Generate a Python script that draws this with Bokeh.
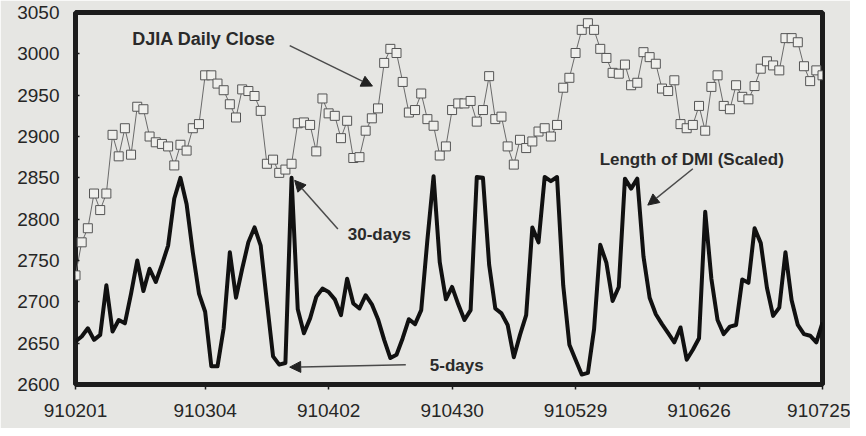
from bokeh.plotting import figure
from bokeh.models import Range1d, FixedTicker, Arrow, NormalHead, Label, ColumnDataSource
from bokeh.embed import file_html
from bokeh.resources import INLINE

# Trading-day index positions of the date ticks and their labels
tick_index = [0, 21, 41, 61, 81, 101, 121]
tick_labels = ["910201", "910304", "910402", "910430", "910529", "910626", "910725"]
y_ticks = [2600, 2650, 2700, 2750, 2800, 2850, 2900, 2950, 3000, 3050]

# DJIA daily close (one value per trading day, 910201 .. 910725)
djia = [2732, 2772, 2789, 2831, 2811, 2831, 2902, 2876, 2910, 2878,
        2936, 2933, 2900, 2893, 2891, 2888, 2865, 2890, 2883, 2910,
        2915, 2974, 2974, 2964, 2956, 2939, 2923, 2957, 2955, 2949,
        2931, 2867, 2872, 2856, 2860, 2867,
        2916, 2917, 2914, 2882, 2946, 2928, 2925, 2898, 2919, 2874,
        2875, 2907, 2922, 2934, 2989, 3006, 3001, 2966, 2929, 2932,
        2952, 2921, 2913, 2877, 2888, 2932, 2940, 2940, 2943, 2918,
        2932, 2973, 2921, 2924, 2888, 2866, 2896, 2886, 2894, 2906,
        2910, 2900, 2914, 2959, 2971, 3001,
        3029, 3037, 3029, 3006, 2995, 2977, 2976, 2987, 2962, 2965,
        3002, 2996, 2988, 2958, 2955, 2968, 2915, 2910, 2914, 2937,
        2907, 2960, 2974, 2937, 2933, 2962, 2948, 2945, 2961, 2982,
        2991, 2986, 2980, 3019, 3019, 3014, 2985, 2967, 2980, 2974]

# Length of DMI (scaled to the DJIA axis)
dmi = [2652, 2658, 2668, 2654, 2660, 2720, 2664, 2678, 2674, 2710,
       2750, 2713, 2740, 2724, 2745, 2768, 2825, 2850, 2818, 2760,
       2710, 2688, 2622, 2622, 2668, 2760, 2705, 2740, 2772, 2790,
       2768, 2700, 2634, 2624, 2626, 2850, 2691, 2662, 2680, 2706,
       2716, 2712, 2703, 2684, 2728, 2698, 2692, 2708, 2697, 2679,
       2654, 2632, 2636, 2656, 2679, 2673, 2690, 2775, 2852, 2748,
       2703, 2718, 2697, 2678, 2690, 2851, 2850, 2745, 2692, 2686,
       2672, 2633, 2660, 2684, 2790, 2772, 2851, 2846, 2851, 2720,
       2648, 2630, 2612, 2614, 2667, 2769, 2747, 2701, 2718, 2849,
       2837, 2849, 2755, 2705, 2685, 2673, 2662, 2651, 2669, 2630,
       2642, 2656, 2809, 2728, 2678, 2661, 2670, 2672, 2727, 2723,
       2789, 2771, 2717, 2683, 2693, 2760, 2702, 2672, 2661, 2659,
       2651, 2675]

day = list(range(len(djia)))

BG = "#e6e6e3"
INK = "#1c1c1c"
FONT = "Liberation Sans"

src = ColumnDataSource(dict(day=day, djia=djia, dmi=dmi))

p = figure(width=850, height=428, output_backend="svg", toolbar_location=None,
           x_range=Range1d(0, 121), y_range=Range1d(2600, 3050),
           min_border_left=75, min_border_right=28, min_border_top=12, min_border_bottom=44)

p.background_fill_color = BG
p.border_fill_color = BG
p.outline_line_color = INK
p.outline_line_width = 5
p.grid.visible = False

p.line("day", "dmi", source=src, line_color="#111111", line_width=4, line_join="round")
p.line("day", "djia", source=src, line_color="#6a6a6a", line_width=1)
p.scatter("day", "djia", source=src, marker="square", size=9,
          fill_color="#efefec", line_color="#555555", line_width=1)

p.xaxis.ticker = FixedTicker(ticks=tick_index)
p.xaxis.major_label_overrides = {i: l for i, l in zip(tick_index, tick_labels)}
p.yaxis.ticker = FixedTicker(ticks=y_ticks)
for ax in (p.xaxis[0], p.yaxis[0]):
    ax.axis_line_color = None
    ax.minor_tick_line_color = None
    ax.major_tick_line_color = INK
    ax.major_tick_line_width = 1.5
    ax.major_label_text_font = FONT
    ax.major_label_text_font_size = "19px"
    ax.major_label_text_color = "#262626"
p.xaxis.major_tick_out = 5
p.xaxis.major_tick_in = 0
p.xaxis.major_label_standoff = 14
p.yaxis.major_tick_out = 0
p.yaxis.major_tick_in = 4
p.yaxis.major_label_standoff = 16

def note(x, y, text, size="18px"):
    p.add_layout(Label(x=x, y=y, text=text, text_font=FONT, text_font_size=size,
                       text_font_style="bold", text_color="#2a2a2a", text_baseline="middle"))

def arrow(x0, y0, x1, y1):
    p.add_layout(Arrow(x_start=x0, y_start=y0, x_end=x1, y_end=y1,
                       line_color="#4a4a4a", line_width=1.5,
                       end=NormalHead(size=11, fill_color="#222222", line_color="#222222")))

note(9.2, 3018, "DJIA  Daily Close")
arrow(34.7, 3010, 48.1, 2961)
note(84.9, 2872, "Length of DMI (Scaled)", "17px")
arrow(100.0, 2861, 92.7, 2817)
note(44.1, 2782, "30-days", "17px")
arrow(42.5, 2788, 35.5, 2847)
note(57.4, 2623, "5-days", "17px")
arrow(53.5, 2624, 34.7, 2621)

open("out.html", "w").write(file_html(p, INLINE))
